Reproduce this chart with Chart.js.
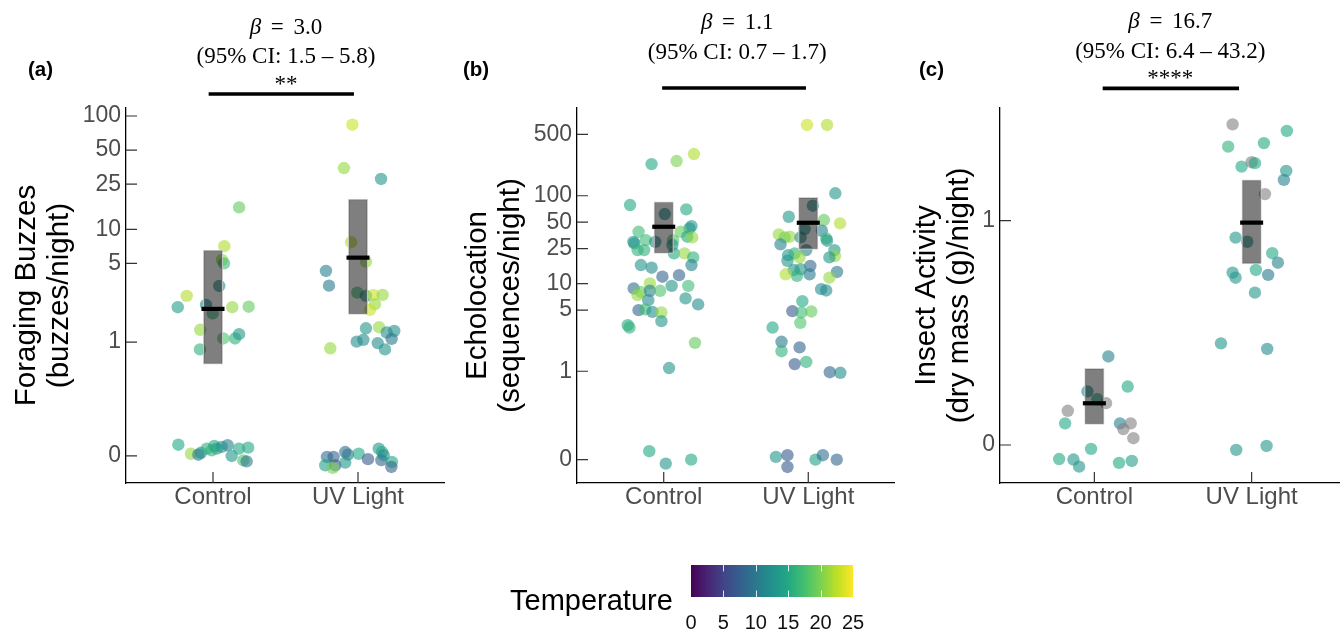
<!DOCTYPE html>
<html>
<head>
<meta charset="utf-8">
<script src="https://cdn.jsdelivr.net/npm/chart.js"></script>
<style>
  body { margin: 0; width: 1340px; height: 633px; overflow: hidden; position: relative; background: #fff; }
  canvas { position: absolute; top: 0; }
</style>
</head>
<body>
<canvas id="panelA" width="445" height="530" style="left:0px"></canvas>
<canvas id="panelB" width="450" height="530" style="left:445px"></canvas>
<canvas id="panelC" width="451" height="530" style="left:895px"></canvas>
<canvas id="tempLegend" width="378" height="88" style="left:500px;top:545px"></canvas>
<script>
const groups = ["Control", "UV Light"];

// (a) foraging buzzes per night
const buzzCtrlX = [1.18, 1.078, 1.062, 1.076, 1.043, 0.819, 0.757, 0.952, 0.998, 1.133, 1.246, 0.912, 1.071, 1.152, 1.18, 0.91,
  0.761, 0.848, 0.899, 0.917, 0.957, 1.009, 1.026, 1.06, 1.101, 1.129, 1.179, 1.243, 1.209, 1.232, 0.991];
const buzzCtrlY = [15.6, 7.1, 5.36, 5.0, 3.16, 2.58, 2.05, 2.15, 1.81, 2.05, 2.07, 1.29, 1.08, 1.08, 1.18, 0.86,
  0.046, 0.009, 0.005, 0.013, 0.03, 0.041, 0.03, 0.037, 0.044, 0, 0.03, 0.034, -0.018, -0.022, 0.023];
const buzzCtrlTemp = [19, 22, 21, 17, 12, 22, 14, 12, 16, 21, 19, 21, 18, 16, 13, 16,
  15, 21, 10, 12, 16, 15, 13, 13, 11, 13, 15, 15, 18, 10, 16];
const buzzUvX = [1.961, 1.903, 2.159, 1.952, 2.055, 1.779, 1.8, 1.995, 2.055, 2.106, 2.17, 2.117, 2.083, 2.145, 2.055, 2.198,
  2.25, 2.232, 1.991, 2.037, 2.136, 2.186, 1.809,
  1.786, 1.832, 1.774, 1.843, 1.826, 1.912, 1.931, 1.912, 2.005, 2.069, 2.143, 2.166, 2.161, 2.177, 2.234, 2.23];
const buzzUvY = [83.8, 34.7, 27.8, 7.69, 5.18, 4.29, 3.18, 2.76, 2.58, 2.63, 2.63, 2.18, 1.94, 1.36, 1.33, 1.22,
  1.26, 1.07, 1.01, 1.05, 0.98, 0.86, 0.88,
  -0.004, -0.004, -0.038, -0.038, -0.049, 0.016, 0.005, -0.027, 0.009, -0.013, 0.03, 0.016, -0.017, 0.003, -0.024, -0.045];
const buzzUvTemp = [23, 21, 13, 22, 21, 11, 10, 17, 13, 23, 21, 21, 23, 21, 13, 12,
  12, 10, 12, 12, 12, 13, 21,
  9, 8, 14, 7, 20, 9, 10, 13, 15, 7, 13, 15, 8, 12, 15, 8];
const buzzCI = [[0.63, 6.57], [1.77, 18.5]];
const buzzMean = [1.98, 5.62];
const buzzTicks = [0, 1, 5, 10, 25, 50, 100];

// (b) echolocation sequences per night
const echoCtrlX = [1.209, 1.089, 0.916, 0.767, 1.156, 1.007, 1.192, 1.178, 1.117, 1.163, 1.197, 0.826, 0.79, 0.797, 0.876, 0.941,
  1.065, 1.06, 0.819, 0.865, 1.071, 1.144, 1.204, 1.192, 0.842, 0.916, 0.991, 1.106, 1.055, 1.17, 0.792, 0.904, 0.842,
  0.819, 0.904, 0.975, 0.893, 1.151, 1.238, 0.826, 0.872, 0.922, 0.984, 0.984, 0.751, 0.763, 1.216, 1.037, 0.9, 1.014, 1.19];
const echoCtrlY = [298, 248, 229, 78.4, 70, 61.9, 45.2, 42.5, 38.9, 34.2, 33.6, 38.9, 29.9, 28.7, 31.3, 29.9,
  31.3, 27.5, 24.1, 24.1, 22.1, 22.1, 19.9, 16.3, 16.3, 15.2, 12.0, 12.5, 9.45, 9.45, 8.83, 10.07, 8.08,
  7.41, 8.3, 8.3, 6.5, 6.8, 5.81, 5.0, 5.1, 4.78, 4.71, 3.75, 3.37, 3.17, 2.12, 1.09, 0.044, -0.021, 0];
const echoCtrlTemp = [22, 20, 15, 15, 15, 12, 13, 13, 19, 15, 21, 17, 13, 13, 17, 12,
  18, 13, 16, 16, 15, 21, 16, 11, 13, 12, 8, 8, 13, 17, 9, 21, 19,
  21, 11, 18, 12, 13, 12, 8, 17, 12, 21, 13, 15, 16, 19, 13, 15, 13, 15];
const echoUvX = [1.991, 2.13, 2.187, 2.032, 1.865, 2.108, 2.22, 1.975, 2.094, 1.796, 1.872, 1.837, 1.947, 2.124, 2.13, 1.808,
  1.986, 2.181, 2.185, 2.146, 1.861, 1.906, 1.94, 1.856, 2.014, 1.899, 1.947, 1.922, 2.009, 1.844, 2.199, 2.146, 2.089,
  2.124, 1.959, 1.89, 1.952, 2.021, 1.945, 1.753, 1.815, 1.815, 1.94, 1.906, 1.986, 2.149, 2.222, 1.776, 1.856, 1.856,
  2.05, 2.101, 2.197];
const echoUvY = [638, 638, 106.6, 77, 57.7, 52.9, 48.5, 41.8, 40, 36.4, 34.2, 33.6, 33.6, 32.7, 30.8, 28.0,
  24.1, 24.1, 20.6, 19.9, 21.1, 22.1, 19.9, 18.2, 15.9, 14.3, 14.6, 12.3, 12.8, 12.8, 13.6, 11.7, 8.67,
  8.38, 6.33, 4.87, 4.71, 4.83, 3.59, 3.17, 2.18, 1.70, 1.88, 1.21, 1.28, 0.975, 0.96, 0.014, 0.023, -0.039,
  0, 0.023, 0];
const echoUvTemp = [23, 22, 13, 12, 13, 19, 22, 12, 11, 21, 21, 20, 12, 17, 13, 11,
  11, 13, 21, 13, 13, 16, 21, 13, 8, 13, 13, 16, 10, 22, 10, 21, 12,
  12, 15, 7, 17, 19, 18, 15, 10, 16, 8, 7, 16, 8, 12, 13, 7, 7,
  14, 9, 8];
const echoCI = [[22.1, 85.4], [24.5, 96]];
const echoMean = [44.4, 49.3];
const echoTicks = [0, 1, 5, 10, 25, 50, 100, 500];

// (c) insect dry mass per night (null = no temperature)
const insectCtrlX = [1.089, 1.212, 0.956, 1.019, 1.074, 0.831, 0.814, 1.163, 1.231, 1.184, 1.248, 0.979, 0.776, 0.867, 0.903, 1.157, 1.238];
const insectCtrlY = [0.209, 0.128, 0.116, 0.098, 0.089, 0.072, 0.045, 0.045, 0.045, 0.033, 0.014, -0.008, -0.029, -0.030, -0.045, -0.037, -0.033];
const insectCtrlTemp = [11, 15, 12, 15, null, null, 15, 11, null, null, null, 15, 15, 13, 13, 15, 14];
const insectUvX = [1.879, 2.224, 1.851, 2.078, 1.936, 2.0, 2.021, 2.22, 2.205, 2.085, 1.898, 1.972, 2.131, 2.167, 1.879, 1.898,
  2.027, 2.105, 2.021, 1.805, 2.099, 1.902, 2.095];
const insectUvY = [2.72, 2.54, 2.16, 2.24, 1.756, 1.838, 1.82, 1.68, 1.53, 1.32, 0.836, 0.80, 0.708, 0.639, 0.574, 0.543,
  0.591, 0.56, 0.46, 0.25, 0.232, -0.010, -0.002];
const insectUvTemp = [null, 15, 16, 15, 15, null, 15, 13, 11, null, 13, 12, 15, 11, 13, 13, 15, 10, 13, 13, 12, 13, 13];
const insectCI = [[0.043, 0.175], [0.631, 1.53]];
const insectMean = [0.0887, 0.979];
const insectTicks = [0, 1];

const tempRange = [0, 25];
const legendTicks = [0, 5, 10, 15, 20, 25];

const SANS = '"Liberation Sans", Arial, Helvetica, sans-serif';
const SERIF = '"Liberation Serif", "Times New Roman", serif';
Chart.defaults.font.family = SANS;
Chart.defaults.animation = false;
Chart.defaults.events = [];
Chart.defaults.plugins.legend.display = false;
Chart.defaults.plugins.tooltip.enabled = false;

// ggplot-style pseudo-log axis: asinh(v / 2sigma)
const SIGMA = 0.1;
const toPseudo = v => Math.asinh(v / (2 * SIGMA));
const fromPseudo = t => 2 * SIGMA * Math.sinh(t);

class PseudoLogScale extends Chart.LinearScale {
  getPixelForValue(value) {
    if (value === null || value === undefined) return NaN;
    const lo = toPseudo(this.min), hi = toPseudo(this.max);
    return this.getPixelForDecimal((toPseudo(value) - lo) / (hi - lo));
  }
  getValueForPixel(pixel) {
    const lo = toPseudo(this.min), hi = toPseudo(this.max);
    return fromPseudo(lo + this.getDecimalForPixel(pixel) * (hi - lo));
  }
}
PseudoLogScale.id = "pseudoLog";
PseudoLogScale.defaults = Chart.LinearScale.defaults;
Chart.register(PseudoLogScale);

const viridisStops = ["#440154", "#482475", "#414487", "#355f8d", "#2a788e", "#21918c",
  "#22a884", "#44bf70", "#7ad151", "#bddf26", "#fde725"];

function hexRgb(h) {
  return [1, 3, 5].map(i => parseInt(h.slice(i, i + 2), 16));
}

function tempColor(temp) {
  if (temp === null) return "rgba(128,128,128,0.6)";
  let t = (temp - tempRange[0]) / (tempRange[1] - tempRange[0]);
  t = Math.min(1, Math.max(0, t)) * (viridisStops.length - 1);
  const i = Math.min(Math.floor(t), viridisStops.length - 2);
  const f = t - i;
  const a = hexRgb(viridisStops[i]), b = hexRgb(viridisStops[i + 1]);
  const c = a.map((v, k) => Math.round(v + (b[k] - v) * f));
  return `rgba(${c[0]},${c[1]},${c[2]},0.6)`;
}

function pointSet(xs, ys, temps) {
  return {
    type: "scatter",
    data: xs.map((x, i) => ({ x, y: ys[i] })),
    pointBackgroundColor: temps.map(tempColor),
    pointBorderWidth: 0,
    pointRadius: 6.2,
    order: 3
  };
}

function ciSet(ranges) {
  return {
    type: "bar",
    data: ranges.map((r, i) => ({ x: i + 1, y: r })),
    backgroundColor: "rgba(0,0,0,0.5)",
    borderColor: "rgba(205,205,205,0.9)",
    borderWidth: 1,
    borderSkipped: false,
    barThickness: 19.5,
    grouped: false,
    order: 2
  };
}

function meanSet(means) {
  return {
    type: "scatter",
    data: means.map((m, i) => ({ x: i + 1, y: m })),
    pointStyle: "line",
    pointRadius: 11.5,
    pointBorderWidth: 4.2,
    pointBorderColor: "#000",
    order: 1
  };
}

const axisGrid = { drawOnChartArea: false, drawTicks: false };
const axisBorder = { display: true, color: "#000", width: 1.3 };

// ggplot draws these ticks pointing into the panel
const inwardTicks = {
  id: "inwardTicks",
  afterDraw(chart) {
    const { ctx, chartArea: a, scales: { x, y } } = chart;
    ctx.save();
    ctx.strokeStyle = "#333";
    ctx.lineWidth = 1.2;
    ctx.beginPath();
    x.ticks.forEach(t => {
      const px = x.getPixelForValue(t.value);
      ctx.moveTo(px, a.bottom);
      ctx.lineTo(px, a.bottom - 11);
    });
    y.ticks.forEach(t => {
      const py = y.getPixelForValue(t.value);
      ctx.moveTo(a.left, py);
      ctx.lineTo(a.left + 11, py);
    });
    ctx.stroke();
    ctx.restore();
  }
};

function drawBeta(ctx, cx, cy, value) {
  const size = 23;
  const gap = size * 0.42;
  ctx.font = `italic ${size}px ${SERIF}`;
  const wb = ctx.measureText("β").width;
  ctx.font = `${size}px ${SERIF}`;
  const we = ctx.measureText("=").width;
  const wv = ctx.measureText(value).width;
  let x = cx - (wb + gap + we + gap + wv) / 2;
  ctx.textAlign = "left";
  ctx.font = `italic ${size}px ${SERIF}`;
  ctx.fillText("β", x, cy);
  x += wb + gap;
  ctx.font = `${size}px ${SERIF}`;
  ctx.fillText("=", x, cy);
  x += we + gap;
  ctx.fillText(value, x, cy);
}

const annotate = {
  id: "annotate",
  afterDraw(chart, args, o) {
    const { ctx } = chart;
    const x = chart.scales.x;
    const cx = x.getPixelForValue(o.textX);
    ctx.save();
    ctx.fillStyle = "#000";
    ctx.textBaseline = "middle";
    ctx.textAlign = "left";
    ctx.font = `bold 20.5px ${SANS}`;
    ctx.fillText(o.letter, o.letterX, 70);
    drawBeta(ctx, cx, o.betaY, o.beta);
    ctx.textAlign = "center";
    ctx.font = `23px ${SERIF}`;
    ctx.fillText(o.ci, cx, o.ciY);
    if (o.stars) ctx.fillText(o.stars, cx, o.starsY);
    ctx.strokeStyle = "#000";
    ctx.lineWidth = 3.7;
    ctx.beginPath();
    ctx.moveTo(x.getPixelForValue(o.barFrom), o.barY);
    ctx.lineTo(x.getPixelForValue(o.barTo), o.barY);
    ctx.stroke();
    ctx.restore();
  }
};

function makePanel(id, p) {
  return new Chart(document.getElementById(id), {
    type: "scatter",
    data: { datasets: [pointSet(p.ctrlX, p.ctrlY, p.ctrlTemp), pointSet(p.uvX, p.uvY, p.uvTemp), ciSet(p.ci), meanSet(p.mean)] },
    plugins: [annotate, inwardTicks],
    options: {
      responsive: false,
      layout: { autoPadding: false, padding: { top: 108, left: 0, right: 0, bottom: 0 } },
      scales: {
        x: {
          type: "linear", min: 0.4, max: 2.6, offset: false,
          afterBuildTicks: s => { s.ticks = [1, 2].map(value => ({ value })); },
          afterFit: s => { s.height = 47; s.paddingLeft = 0; s.paddingRight = 0; },
          grid: { ...axisGrid, offset: false }, border: axisBorder,
          ticks: { autoSkip: false, maxRotation: 0, padding: 0, color: "#4d4d4d", font: { size: 24 }, callback: v => groups[v - 1] }
        },
        y: {
          type: "pseudoLog", min: p.yMin, max: p.yMax,
          afterBuildTicks: s => { s.ticks = p.ticks.map(value => ({ value })); },
          afterFit: s => { s.width = p.yWidth; s.paddingTop = 0; s.paddingBottom = 0; },
          grid: axisGrid, border: axisBorder,
          ticks: { autoSkip: false, padding: 5, color: "#4d4d4d", font: { size: 23 }, callback: v => String(v) },
          title: { display: true, text: p.title, color: "#000", font: { size: 29.5, lineHeight: 1.12 }, padding: { top: p.titlePad, bottom: 0 } }
        }
      },
      plugins: { annotate: p.note }
    }
  });
}

makePanel("panelA", {
  ctrlX: buzzCtrlX, ctrlY: buzzCtrlY, ctrlTemp: buzzCtrlTemp,
  uvX: buzzUvX, uvY: buzzUvY, uvTemp: buzzUvTemp,
  ci: buzzCI, mean: buzzMean, ticks: buzzTicks,
  yMin: -0.1155, yMax: 117.6, yWidth: 126, titlePad: 9.9,
  title: ["Foraging Buzzes", "(buzzes/night)"],
  note: { letter: "(a)", letterX: 28, beta: "3.0", ci: "(95% CI: 1.5 – 5.8)", stars: "**",
    textX: 1.503, betaY: 28, ciY: 57, starsY: 85, barY: 94, barFrom: 0.97, barTo: 1.972 }
});

makePanel("panelB", {
  ctrlX: echoCtrlX, ctrlY: echoCtrlY, ctrlTemp: echoCtrlTemp,
  uvX: echoUvX, uvY: echoUvY, uvTemp: echoUvTemp,
  ci: echoCI, mean: echoMean, ticks: echoTicks,
  yMin: -0.1305, yMax: 995, yWidth: 132, titlePad: 16,
  title: ["Echolocation", "(sequences/night)"],
  note: { letter: "(b)", letterX: 18, beta: "1.1", ci: "(95% CI: 0.7 – 1.7)", stars: "",
    textX: 1.508, betaY: 23, ciY: 53, starsY: 0, barY: 88, barFrom: 0.989, barTo: 1.984 }
});

makePanel("panelC", {
  ctrlX: insectCtrlX, ctrlY: insectCtrlY, ctrlTemp: insectCtrlTemp,
  uvX: insectUvX, uvY: insectUvY, uvTemp: insectUvTemp,
  ci: insectCI, mean: insectMean, ticks: insectTicks,
  yMin: -0.0803, yMax: 3.22, yWidth: 105, titlePad: 14.9,
  title: ["Insect Activity", "(dry mass (g)/night)"],
  note: { letter: "(c)", letterX: 24, beta: "16.7", ci: "(95% CI: 6.4 – 43.2)", stars: "****",
    textX: 1.483, betaY: 22, ciY: 52, starsY: 79, barY: 88.3, barFrom: 1.053, barTo: 1.92 }
});

// colour bar legend
const colorbar = {
  id: "colorbar",
  beforeDatasetsDraw(chart) {
    const { ctx, chartArea: a, scales: { x } } = chart;
    const x0 = x.getPixelForValue(tempRange[0]), x1 = x.getPixelForValue(tempRange[1]);
    const g = ctx.createLinearGradient(x0, 0, x1, 0);
    viridisStops.forEach((c, i) => g.addColorStop(i / (viridisStops.length - 1), c));
    ctx.save();
    ctx.fillStyle = g;
    ctx.fillRect(a.left, a.top, a.right - a.left, a.bottom - a.top);
    const h = (a.bottom - a.top) / 5;
    ctx.strokeStyle = "rgba(255,255,255,0.85)";
    ctx.lineWidth = 1;
    legendTicks.filter(v => v > tempRange[0] && v < tempRange[1]).forEach(v => {
      const px = Math.round(x.getPixelForValue(v)) + 0.5;
      ctx.beginPath();
      ctx.moveTo(px, a.top); ctx.lineTo(px, a.top + h);
      ctx.moveTo(px, a.bottom - h); ctx.lineTo(px, a.bottom);
      ctx.stroke();
    });
    ctx.fillStyle = "#000";
    ctx.font = `29px ${SANS}`;
    ctx.textBaseline = "middle";
    ctx.textAlign = "left";
    ctx.fillText("Temperature", 10, 57);
    ctx.restore();
  }
};

new Chart(document.getElementById("tempLegend"), {
  type: "scatter",
  data: { datasets: [] },
  plugins: [colorbar],
  options: {
    responsive: false,
    layout: { padding: { top: 20, left: 191, right: 25, bottom: 0 } },
    scales: {
      x: {
        type: "linear", min: tempRange[0], max: tempRange[1],
        afterBuildTicks: s => { s.ticks = legendTicks.map(value => ({ value })); },
        afterFit: s => { s.height = 36; },
        grid: { display: false }, border: { display: false },
        ticks: { autoSkip: false, maxRotation: 0, padding: 6, color: "#111", font: { size: 20 } }
      },
      y: { display: false, min: 0, max: 1 }
    }
  }
});
</script>
</body>
</html>
